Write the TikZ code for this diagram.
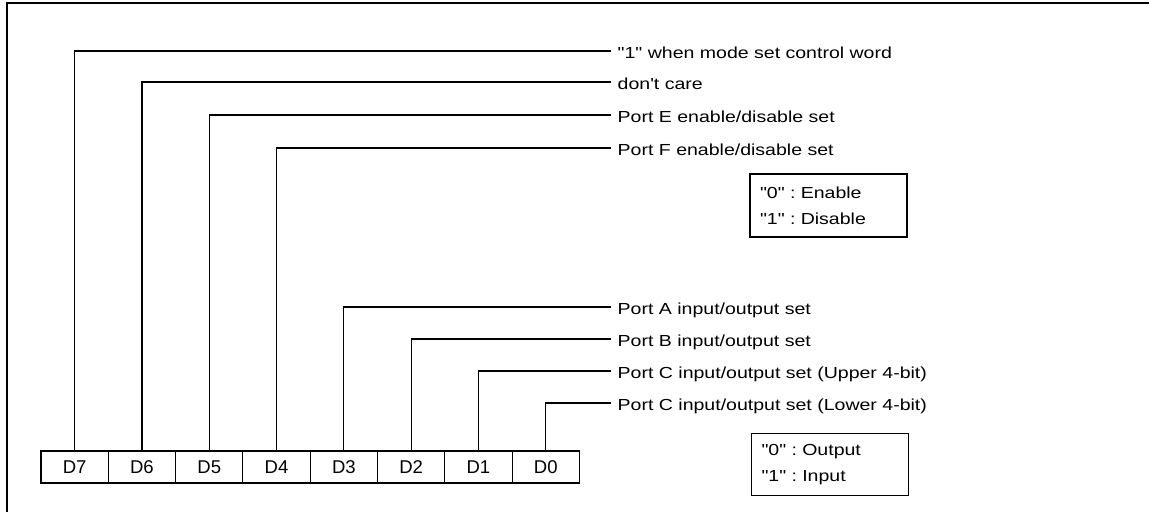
\documentclass[tikz,border=0pt]{standalone}
\usepackage{fontspec}
\newfontfamily\lblfont[FakeStretch=1.22]{Liberation Sans}
\newfontfamily\bitfont{Liberation Sans}
\frenchspacing
\begin{document}
\begin{tikzpicture}[x=1pt,y=-1pt,
  every node/.style={font=\lblfont\fontsize{16}{26.3}\selectfont},
  bitbox/.style={draw,line width=1.1pt,minimum width=67.3pt,minimum height=32pt,inner sep=0pt,font=\bitfont\fontsize{18.5}{20}\selectfont},
  lbl/.style={anchor=base west,inner xsep=6.5pt,inner ysep=0pt},
  lead/.style={line width=1.1pt},
  legend/.style={draw,line width=1.1pt,minimum width=157pt,align=left,text width=137pt,inner xsep=10pt}]
\useasboundingbox (0,0) rectangle (1149,512);
\draw[line width=1.5pt] (7,512) -- (7,3) -- (1149,3);
% bit boxes
\foreach \n [count=\i from 0] in {7,6,5,4,3,2,1,0}{
  \node[bitbox] (d\n) at ({41+33.65+67.3*\i},467) {D\n};
}
% labels
\node[lbl] (l7) at (611,58) {"1" when mode set control word};
\node[lbl] (l6) at (611,89) {don't care};
\node[lbl] (l5) at (611,122) {Port E enable/disable set};
\node[lbl] (l4) at (611,155) {Port F enable/disable set};
\node[lbl] (l3) at (611,314) {Port A input/output set};
\node[lbl] (l2) at (611,346) {Port B input/output set};
\node[lbl] (l1) at (611,378) {Port C input/output set (Upper 4-bit)};
\node[lbl] (l0) at (611,410) {Port C input/output set (Lower 4-bit)};
\foreach \n in {7,6,5,4,3,2,1,0}{
  \draw[lead] (d\n.north) |- ([yshift=7pt]l\n.base west);
}
% legends
\node[legend,minimum height=63pt] (en) at (828.5,205.5) {"0" : Enable\\"1" : Disable};
\node[legend,minimum height=62pt] (io) at (830,464.3) {"0" : Output\\"1" : Input};
\end{tikzpicture}
\end{document}
